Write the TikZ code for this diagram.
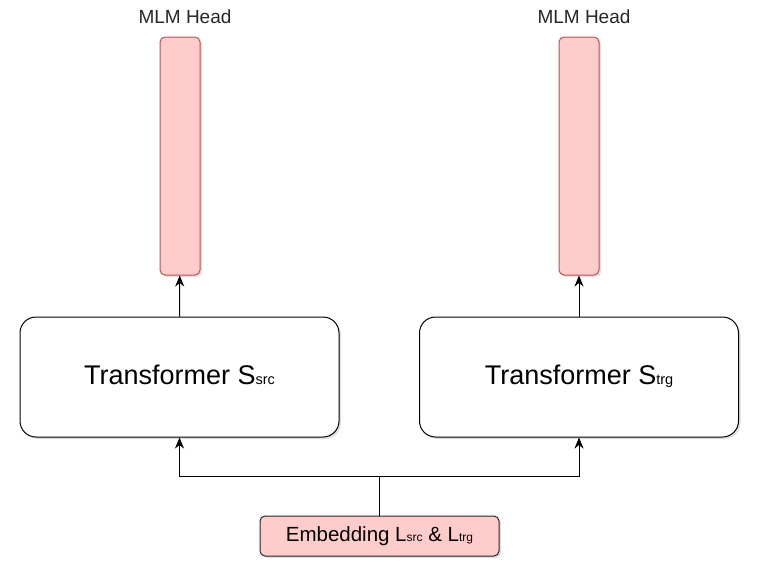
\documentclass[tikz,border=0pt]{standalone}
\usepackage{fontspec}
\setmainfont{Liberation Sans}
\usepackage{tikz}
\usetikzlibrary{arrows.meta,positioning,shadows}
\usepackage{xcolor}

\definecolor{headfill}{HTML}{FFCCCC}
\definecolor{headline}{HTML}{B85450}

% small baseline subscript as in the drawing
\newcommand{\smallsub}[2]{{\fontsize{#1}{#1}\selectfont #2}}

\begin{document}
\begin{tikzpicture}[
    x=1pt, y=-1pt,
    shade/.style={drop shadow={shadow xshift=2pt, shadow yshift=-2pt, fill=black!30, opacity=0.4}},
    transformer/.style={rectangle, draw=black, line width=1pt, rounded corners=16pt, fill=white, shade, minimum width=319pt, minimum height=120pt, text height=19pt, text depth=5pt, align=center, font=\fontsize{27}{31}\selectfont},
    head/.style={rectangle, draw=headline, line width=1pt, fill=headfill, rounded corners=5pt, shade, minimum width=40pt, minimum height=238pt},
    embed/.style={rectangle, draw=black!85, line width=1pt, fill=headfill, rounded corners=5pt, shade, minimum width=239pt, minimum height=40pt, font=\fontsize{20.5}{24}\selectfont},
    label/.style={font=\fontsize{19}{22}\selectfont, text=black!85},
    arr/.style={-{Stealth[length=11pt,width=9pt,inset=3.5pt]}, line width=1pt},
    link/.style={line width=1pt},
]
\useasboundingbox (0,0) rectangle (763,576);

\node[transformer] (tsrc) at (179.5,377) {Transformer S\smallsub{14.5}{src}};
\node[transformer] (ttrg) at (579,377) {Transformer S\smallsub{14.5}{trg}};

\node[head] (hsrc) at (180,156) {};
\node[head] (htrg) at (579,156) {};

\node[label] (lsrc) at (185,17) {MLM Head};
\node[label] (ltrg) at (584,17) {MLM Head};

\node[embed] (emb) at (379.5,536) {Embedding L\smallsub{12}{src} \& L\smallsub{12}{trg}};

% shared embedding feeds both stacks
\coordinate (split) at (379.5,476);
\draw[link] (emb) -- (split);
\draw[arr] (split) -| (tsrc);
\draw[arr] (split) -| (ttrg);

\draw[arr] (tsrc) -- (hsrc);
\draw[arr] (ttrg) -- (htrg);

\end{tikzpicture}
\end{document}
